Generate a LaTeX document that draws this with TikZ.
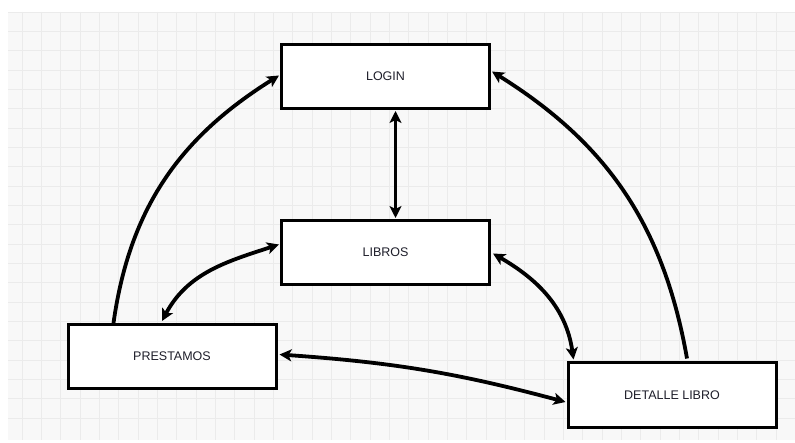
\documentclass[tikz,border=0pt]{standalone}
\usepackage{fontspec}
\setmainfont{Liberation Sans}
\usetikzlibrary{arrows.meta,calc}
\definecolor{gridbg}{HTML}{F8F8F8}
\definecolor{gridline}{HTML}{EBEBEB}
\definecolor{txt}{HTML}{1E1E2A}
\tikzset{
  screen/.style={draw=black, line width=3pt, fill=white, minimum width=208pt, minimum height=64pt,
    inner sep=0pt, text=txt, font=\fontsize{12.5}{14}\selectfont},
  link/.style={line width=3.8pt, black, -{Stealth[length=12pt,width=12pt,inset=3pt]}},
  dlink/.style={line width=3.8pt, black, {Stealth[length=12pt,width=12pt,inset=3pt]}-{Stealth[length=12pt,width=12pt,inset=3pt]}}
}
\begin{document}
\begin{tikzpicture}[x=1pt,y=-1pt]
\useasboundingbox (0,0) rectangle (795,443);
\fill[white] (0,0) rectangle (795,443);
\fill[gridbg] (8,12) rectangle (795,440);
\foreach \i in {0,...,40} {
  \pgfmathsetmacro{\gx}{22.3+19.33*\i}
  \ifdim \gx pt<795pt \draw[gridline, line width=1pt] (\gx,12) -- (\gx,440); \fi
}
\foreach \j in {0,...,21} {
  \pgfmathsetmacro{\gy}{12.3+19.33*\j}
  \ifdim \gy pt<440pt \draw[gridline, line width=1pt] (8,\gy) -- (795,\gy); \fi
}
\node[screen] (login) at (385.5,76.5) {LOGIN};
\node[screen] (libros) at (385.5,252.5) {LIBROS};
\node[screen] (prestamos) at (172,356.5) {PRESTAMOS};
\node[screen] (detalle) at (672,395) {DETALLE LIBRO};
% connectors
\draw[link] ($(prestamos.north west)+(47,0)$) to[out=82, in=212] ($(login.west)+(-1,-1)$);
\draw[link] ($(detalle.north)+(15,-3)$) to[out=100, in=-32] ($(login.east)+(1,-5)$);
\draw[dlink] ($(login.south)+(10,1)$) -- ($(libros.north)+(10,-1)$);
\draw[dlink] ($(libros.west)+(-1,-8)$) to[out=198, in=62] ($(prestamos.north)+(-10,-2)$);
\draw[dlink] ($(libros.east)+(2,1)$) to[out=-30, in=98] ($(detalle.north west)+(7,-2)$);
\draw[dlink] ($(prestamos.east)+(2,-2)$) to[out=-4, in=165] ($(detalle.west)+(-1,7)$);
\end{tikzpicture}
\end{document}
